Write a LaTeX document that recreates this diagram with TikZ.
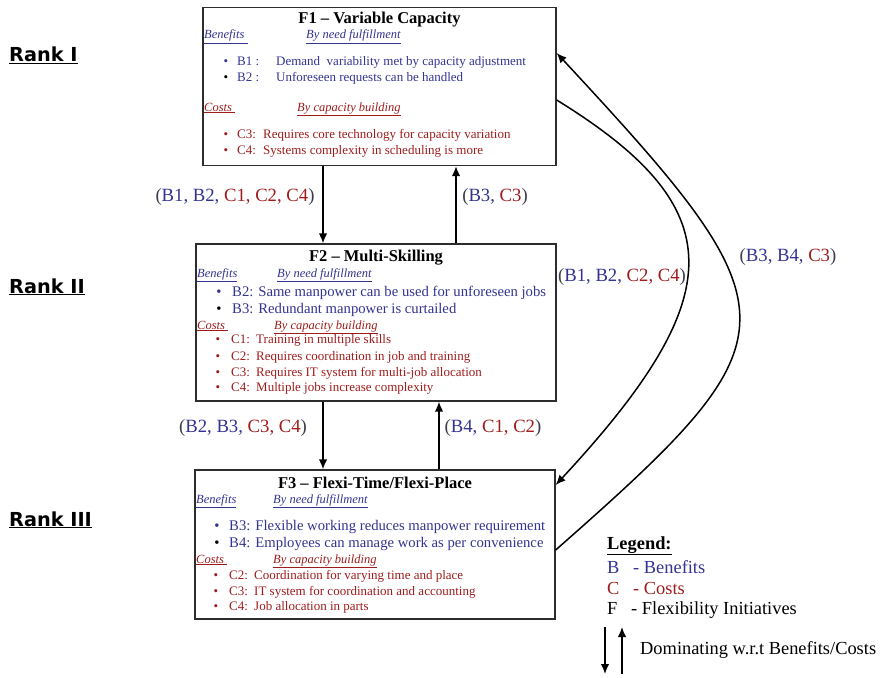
\documentclass[tikz,border=0pt]{standalone}
\usepackage{fontspec}
\setmainfont{Liberation Serif}
\newfontfamily\rankfont{DejaVu Sans}
\usetikzlibrary{arrows.meta}
\definecolor{benblue}{RGB}{51,51,145}
\definecolor{costred}{RGB}{158,28,28}
\definecolor{framegray}{RGB}{45,45,45}
\definecolor{parengray}{RGB}{60,60,80}
\newcommand\fsz[1]{\fontsize{#1}{#1}\selectfont}
\newcommand\benc[1]{\textcolor{benblue}{#1}}
\newcommand\costc[1]{\textcolor{costred}{#1}}
\tikzset{
  box/.style={draw=framegray, line width=1.3pt, inner sep=0pt},
  txt/.style={anchor=base west, inner sep=0pt},
  ttl/.style={anchor=base, inner sep=0pt, font=\fsz{16.5}\bfseries},
  hdrb/.style={txt, text=benblue, font=\fsz{12.5}\itshape},
  hdrc/.style={txt, text=costred, font=\fsz{12.5}\itshape},
  smb/.style={txt, text=benblue, font=\fsz{13}},
  smc/.style={txt, text=costred, font=\fsz{13}},
  bigb/.style={txt, text=benblue, font=\fsz{14.7}},
  dot/.style={anchor=base, inner sep=0pt},
  arr/.style={line width=1.5pt, -{Latex[length=10pt,width=8.5pt]}},
  elab/.style={inner sep=0pt, text=parengray, font=\fsz{18.7}},
  rank/.style={txt, font=\fsz{19.3}\rankfont\bfseries},
  leg/.style={txt, font=\fsz{18.4}},
}
\begin{document}
\begin{tikzpicture}[x=1pt, y=-1pt]
\useasboundingbox (0,0) rectangle (882,677);

% rank labels
\node[rank] (r1) at (9,62) {\underline{Rank I}};
\node[rank] (r2) at (9,293) {\underline{Rank II}};
\node[rank] (r3) at (9,526) {\underline{Rank III}};

% boxes
\node[box, minimum width=353pt, minimum height=158pt] (F1) at (379.5,86.5) {};
\node[box, minimum width=360pt, minimum height=157pt] (F2) at (376,322.5) {};
\node[box, minimum width=360pt, minimum height=149pt] (F3) at (375,544.5) {};

% F1 contents
\node[ttl] (t1) at (379.5,24) {F1 -- Variable Capacity};
\node[hdrb] (f1b) at (204,39) {\underline{Benefits\ }};
\node[hdrb] (f1bn) at (306,39) {\underline{By need fulfillment}};
\node[dot, text=benblue, font=\fsz{13}] (f1d1) at (226,65) {•};
\node[smb] (f1l1) at (237,65) {B1 :};
\node[smb] (f1x1) at (276,65) {Demand\ \ variability met by capacity adjustment};
\node[dot, font=\fsz{13}] (f1d2) at (226,81) {•};
\node[smb] (f1l2) at (237,81) {B2 :};
\node[smb] (f1x2) at (276,81) {Unforeseen requests can be handled};
\node[hdrc] (f1c) at (204,111) {\underline{Costs\ }};
\node[hdrc] (f1cb) at (297,111) {\underline{By capacity building}};
\node[dot, text=costred, font=\fsz{13}] (f1d3) at (226,138) {•};
\node[smc] (f1l3) at (237,138) {C3:};
\node[smc] (f1x3) at (263,138) {Requires core technology for capacity variation};
\node[dot, text=costred, font=\fsz{13}] (f1d4) at (226,154) {•};
\node[smc] (f1l4) at (237,154) {C4:};
\node[smc] (f1x4) at (263,154) {Systems complexity in scheduling is more};

% F2 contents
\node[ttl] (t2) at (376,261) {F2 -- Multi-Skilling};
\node[hdrb] (f2b) at (197,277) {\underline{Benefits}};
\node[hdrb] (f2bn) at (277,277) {\underline{By need fulfillment}};
\node[dot, text=benblue, font=\fsz{14.7}] (f2d1) at (219,296) {•};
\node[bigb] (f2x1) at (232,296) {B2: Same manpower can be used for unforeseen jobs};
\node[dot, font=\fsz{14.7}] (f2d2) at (219,313) {•};
\node[bigb] (f2x2) at (232,313) {B3: Redundant manpower is curtailed};
\node[hdrc] (f2c) at (197,329) {\underline{Costs\ }};
\node[hdrc] (f2cb) at (274,329) {\underline{By capacity building}};
\node[dot, text=costred, font=\fsz{13}] (f2d3) at (218,343) {•};
\node[smc] (f2l3) at (231,343) {C1:};
\node[smc] (f2x3) at (256,343) {Training in multiple skills};
\node[dot, text=costred, font=\fsz{13}] (f2d4) at (218,360) {•};
\node[smc] (f2l4) at (231,360) {C2:};
\node[smc] (f2x4) at (256,360) {Requires coordination in job and training};
\node[dot, text=costred, font=\fsz{13}] (f2d5) at (218,376) {•};
\node[smc] (f2l5) at (231,376) {C3:};
\node[smc] (f2x5) at (256,376) {Requires IT system for multi-job allocation};
\node[dot, text=costred, font=\fsz{13}] (f2d6) at (218,391) {•};
\node[smc] (f2l6) at (231,391) {C4:};
\node[smc] (f2x6) at (256,391) {Multiple jobs increase complexity};

% F3 contents
\node[ttl] (t3) at (375,488) {F3 -- Flexi-Time/Flexi-Place};
\node[hdrb] (f3b) at (196,503) {\underline{Benefits}};
\node[hdrb] (f3bn) at (273,503) {\underline{By need fulfillment}};
\node[dot, text=benblue, font=\fsz{14.7}] (f3d1) at (217,530) {•};
\node[bigb] (f3x1) at (229,530) {B3: Flexible working reduces manpower requirement};
\node[dot, font=\fsz{14.7}] (f3d2) at (217,547) {•};
\node[bigb] (f3x2) at (229,547) {B4: Employees can manage work as per convenience};
\node[hdrc] (f3c) at (196,563) {\underline{Costs\ }};
\node[hdrc] (f3cb) at (273,563) {\underline{By capacity building}};
\node[dot, text=costred, font=\fsz{13}] (f3d3) at (216,579) {•};
\node[smc] (f3l3) at (229,579) {C2:};
\node[smc] (f3x3) at (254,579) {Coordination for varying time and place};
\node[dot, text=costred, font=\fsz{13}] (f3d4) at (216,595) {•};
\node[smc] (f3l4) at (229,595) {C3:};
\node[smc] (f3x4) at (254,595) {IT system for coordination and accounting};
\node[dot, text=costred, font=\fsz{13}] (f3d5) at (216,610) {•};
\node[smc] (f3l5) at (229,610) {C4:};
\node[smc] (f3x5) at (254,610) {Job allocation in parts};

% vertical dominance arrows
\draw[arr] (F1.south -| 323,0) -- (F2.north -| 323,0);
\draw[arr] (F2.north -| 456,0) -- (F1.south -| 456,0);
\draw[arr] (F2.south -| 323,0) -- (F3.north -| 323,0);
\draw[arr] (F3.north -| 439,0) -- (F2.south -| 439,0);

% curved arrows between F1 and F3
\draw[arr] (F1.east |- 0,100) .. controls (732,208) and (732,295) .. (F3.east |- 0,485);
\draw[arr] (F3.east |- 0,550) .. controls (800,335) and (800,315) .. (F1.east |- 0,53);

% edge labels
\node[elab] (e12) at (235,197) {(\benc{B1,} \benc{B2,} \costc{C1,} \costc{C2,} \costc{C4})};
\node[elab] (e21) at (495,197) {(\benc{B3,} \costc{C3})};
\node[elab] (e23) at (243,428) {(\benc{B2,} \benc{B3,} \costc{C3,} \costc{C4})};
\node[elab] (e32) at (493,428) {(\benc{B4,} \costc{C1,} \costc{C2})};
\node[elab] (e13) at (622,277) {(\benc{B1,} \benc{B2,} \costc{C2,} \costc{C4})};
\node[elab] (e31) at (788,257) {(\benc{B3,} \benc{B4,} \costc{C3})};

% legend
\node[leg, font=\fsz{18.4}\bfseries] (lg) at (607,549) {\underline{Legend:}};
\node[leg, text=benblue] (lgb) at (607,573) {B};
\node[leg, text=benblue] (lgbt) at (633,573) {- Benefits};
\node[leg, text=costred] (lgc) at (607,594) {C};
\node[leg, text=costred] (lgct) at (633,594) {- Costs};
\node[leg] (lgf) at (607,614) {F};
\node[leg] (lgft) at (631,614) {- Flexibility Initiatives};
\coordinate (dnA) at (605,627);
\coordinate (dnB) at (605,674);
\coordinate (upA) at (622,674);
\coordinate (upB) at (622,627);
\draw[arr] (dnA) -- (dnB);
\draw[arr] (upA) -- (upB);
\node[leg] (lgd) at (640,654) {Dominating w.r.t Benefits/Costs};
\end{tikzpicture}
\end{document}
